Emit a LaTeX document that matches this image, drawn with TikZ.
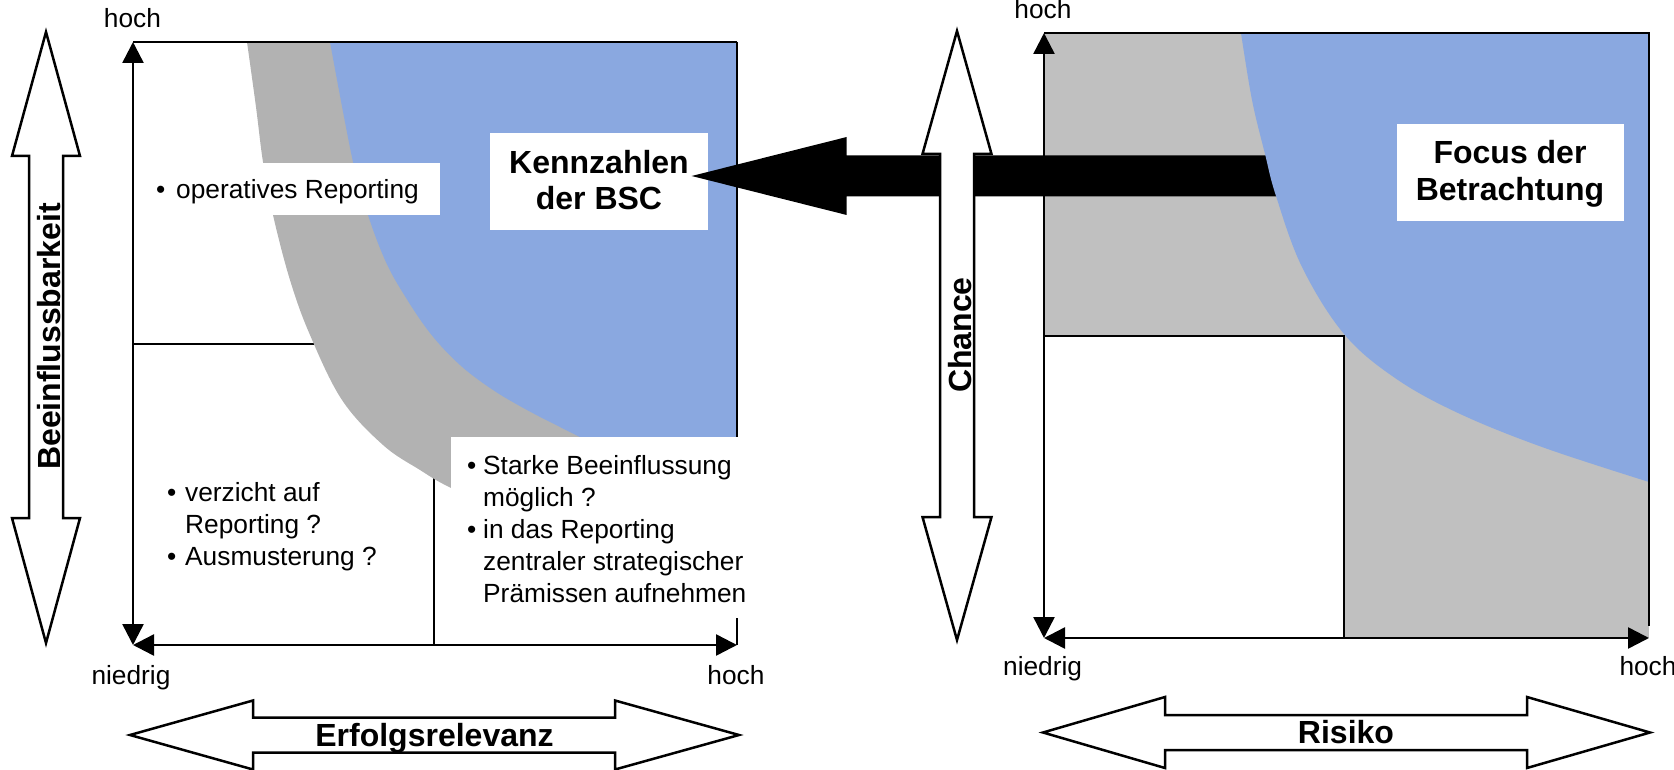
\documentclass[tikz,border=0pt]{standalone}
\usepackage{fontspec}
\setmainfont{Liberation Sans}
\usetikzlibrary{arrows.meta}
\definecolor{lgray}{RGB}{178,178,178}
\definecolor{rgray}{RGB}{192,192,192}
\definecolor{bblue}{RGB}{138,168,224}
\begin{document}
\begin{tikzpicture}[x=1pt,y=-1pt,
  axis/.style={line width=2.5pt,{Triangle[length=21pt,width=21pt]}-{Triangle[length=21pt,width=21pt]}},
  midline/.style={line width=2.2pt},
  blockarrow/.style={draw=black,fill=white,line width=2.5pt,line join=miter},
  wbox/.style={fill=white,draw=none,inner sep=0pt},
  txt/.style={font=\fontsize{26.3}{32}\selectfont,inner sep=0pt,anchor=base},
  txtw/.style={txt,anchor=base west},
  btxt/.style={font=\bfseries\fontsize{32}{36.5}\selectfont,inner sep=0pt,anchor=base}]
\useasboundingbox (0,0) rectangle (1674,770);

% ================= left panel =================
\draw[midline] (133,344) -- (737,344);
\draw[midline] (434,42) -- (434,645);
\fill[lgray] plot[smooth,tension=0.6] coordinates {(247,42) (256,107) (263,162) (273,215) (290,280) (310,335) (342,400) (383,445) (420,470) (451,488) (520,520)}
  -- (737,520) -- (737,42) -- cycle;
\fill[bblue] plot[smooth,tension=0.6] coordinates {(330,42) (353,162) (368,215) (385,260) (403,293) (430,333) (460,365) (493,390) (527,410) (560,427) (580,437)}
  -- (737,437) -- (737,42) -- cycle;
\draw[line width=2pt] (133,42) -- (737,42);
\draw[line width=1.2pt] (737,42) -- (737,645);

\node[wbox,minimum width=292pt,minimum height=52pt] (opbox) at (294,189) {};
\node[txtw] (opb) at (156,199) {•};
\node[txtw] (opt) at (176,199) {operatives Reporting};

\node[wbox,minimum width=218pt,minimum height=97pt] (kbox) at (599,181.5) {};
\node[btxt] (k1) at (599,174) {Kennzahlen};
\node[btxt] (k2) at (599,210) {der BSC};

\node[wbox,minimum width=294pt,minimum height=181pt] (sbox) at (598,527.5) {};
\node[txtw] (s1b) at (467,474) {•};
\node[txtw] (s1) at (483,474) {Starke Beeinflussung};
\node[txtw] (s2) at (483,506) {möglich ?};
\node[txtw] (s3b) at (467,538) {•};
\node[txtw] (s3) at (483,538) {in das Reporting};
\node[txtw] (s4) at (483,570) {zentraler strategischer};
\node[txtw] (s5) at (483,602) {Prämissen aufnehmen};

\node[txtw] (v1b) at (167,501) {•};
\node[txtw] (v1) at (185,501) {verzicht auf};
\node[txtw] (v2) at (185,533) {Reporting ?};
\node[txtw] (v3b) at (167,565) {•};
\node[txtw] (v3) at (185,565) {Ausmusterung ?};

\coordinate (lo) at (133,645);
\coordinate (lt) at (133,42);
\coordinate (lr) at (737,645);
\draw[axis] (lo) -- (lt);
\draw[axis] (lo) -- (lr);

\node[txt] (lhochtop) at (132.5,27.7) {hoch};
\node[txt] (lniedrig) at (131,684) {niedrig};
\node[txt] (lhochbot) at (736,684) {hoch};

% ================= right panel =================
\fill[rgray] (1044,33) rectangle (1649,638);
\fill[white] (1044,336) rectangle (1344,638);
\draw[line width=2.3pt] (1044,336) -- (1344,336) -- (1344,638);
\coordinate (ro) at (1044,638);
\coordinate (rt) at (1044,33);
\coordinate (rr) at (1649,638);
\draw[axis] (ro) -- (rt);
\draw[axis] (ro) -- (rr);

% big black arrow
\fill[black] (691.7,176) -- (846.7,137) -- (846.7,155.5) -- (1320,155.5) -- (1320,196.5)
  -- (846.7,196.5) -- (846.7,215) -- cycle;

\fill[bblue] plot[smooth,tension=0.6] coordinates {(1241,33) (1252,100) (1265,154) (1276,196) (1302,267) (1344,334) (1395,378) (1458,413) (1542,447) (1649,482)}
  -- (1649,33) -- cycle;
\draw[line width=2pt] (1044,33) -- (1649,33) -- (1649,626);

\node[wbox,minimum width=227pt,minimum height=97pt] (fbox) at (1510.5,172.5) {};
\node[btxt] (f1) at (1510,164) {Focus der};
\node[btxt] (f2) at (1510,201) {Betrachtung};

\node[txt] (rhochtop) at (1043,18.3) {hoch};
\node[txt] (rniedrig) at (1042.6,675) {niedrig};
\node[txt] (rhochbot) at (1648,675) {hoch};

% ================= block arrows =================
\draw[blockarrow] (46,32) -- (80,156) -- (63,156) -- (63,518) -- (80,518) -- (46,643)
  -- (12,518) -- (29,518) -- (29,156) -- (12,156) -- cycle;
\node[btxt,rotate=90] (beein) at (60,336.5) {Beeinflussbarkeit};

\draw[blockarrow] (957,31) -- (991.5,154) -- (974,154) -- (974,517) -- (991.5,517) -- (957,640)
  -- (922.5,517) -- (940,517) -- (940,154) -- (922.5,154) -- cycle;
\node[btxt,rotate=90] (chance) at (971.5,335) {Chance};

\draw[blockarrow] (130,735) -- (253,700.5) -- (253,717.5) -- (615,717.5) -- (615,700.5) -- (739,735)
  -- (615,769.5) -- (615,752.5) -- (253,752.5) -- (253,769.5) -- cycle;
\node[btxt] (erfolg) at (434.5,746) {Erfolgsrelevanz};

\draw[blockarrow] (1043,732.5) -- (1165,697) -- (1165,715) -- (1527,715) -- (1527,697) -- (1650,732.5)
  -- (1527,768) -- (1527,750) -- (1165,750) -- (1165,768) -- cycle;
\node[btxt] (risiko) at (1346,743) {Risiko};
\end{tikzpicture}
\end{document}
